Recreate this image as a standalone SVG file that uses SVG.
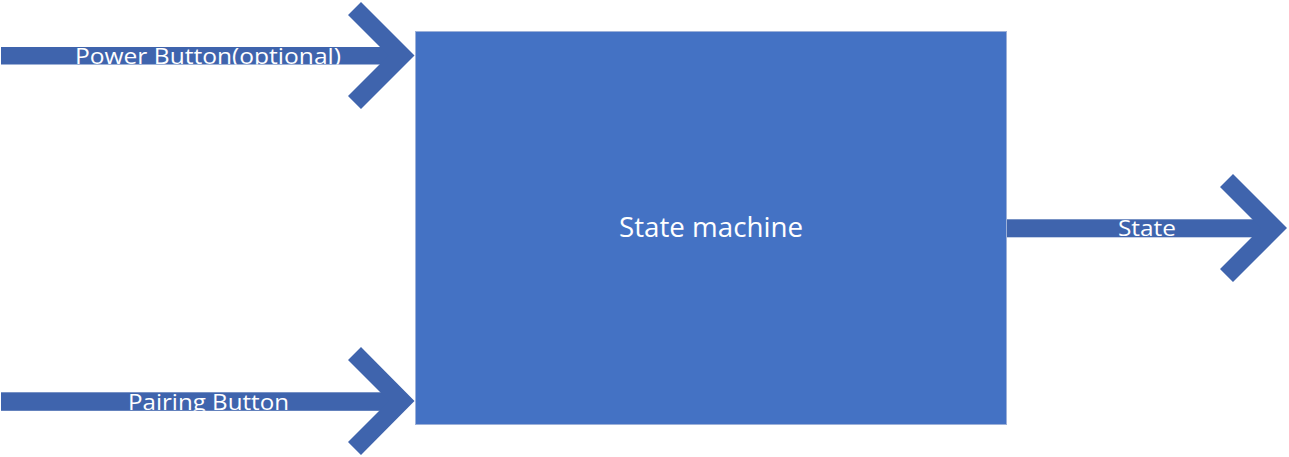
<svg xmlns="http://www.w3.org/2000/svg" width="1289" height="457" viewBox="0 0 1289 457">
<style>
.arrow{fill:#3F64AD}
.lbl{font-family:"Open Sans","Noto Sans",sans-serif;fill:#FFFFFF;text-anchor:middle}
.box{fill:#4472C4;stroke:#9DB1D9;stroke-width:1}
</style>
<defs>
<clipPath id="c1"><rect x="0" y="30" width="420" height="34.5"/></clipPath>
<clipPath id="c2"><rect x="0" y="370" width="420" height="40.8"/></clipPath>
<clipPath id="c3"><rect x="1000" y="200" width="289" height="37.4"/></clipPath>
</defs>
<rect width="1289" height="457" fill="#FFFFFF"/>
<g id="state-machine">
<rect class="box" x="415.5" y="31.5" width="591" height="393"/>
<text class="lbl" x="711" y="237" font-size="28" textLength="184" lengthAdjust="spacingAndGlyphs">State machine</text>
</g>
<g id="connectors">
<g id="power-arrow">
<rect class="arrow" x="1" y="47" width="392" height="17.5"/>
<polygon class="arrow" points="361,2 414.5,55.5 361,109 348,96 388.5,55.5 348,15"/>
<text class="lbl" x="208" y="63.5" font-size="22.5" textLength="266" lengthAdjust="spacingAndGlyphs" clip-path="url(#c1)">Power Button(optional)</text>
</g>
<g id="pairing-arrow">
<rect class="arrow" x="1" y="392.3" width="392" height="18.5"/>
<polygon class="arrow" points="361,347 414.5,401 361,455 348,442 389,401 348,360"/>
<text class="lbl" x="208.5" y="409.5" font-size="22.5" textLength="161" lengthAdjust="spacingAndGlyphs" clip-path="url(#c2)">Pairing Button</text>
</g>
<g id="state-arrow">
<rect class="arrow" x="1007" y="219.3" width="258" height="18"/>
<polygon class="arrow" points="1233,174 1287,228 1233,282 1220,269 1261,228 1220,187"/>
<text class="lbl" x="1147" y="236" font-size="22.5" textLength="58" lengthAdjust="spacingAndGlyphs" clip-path="url(#c3)">State</text>
</g>
</g>
</svg>
